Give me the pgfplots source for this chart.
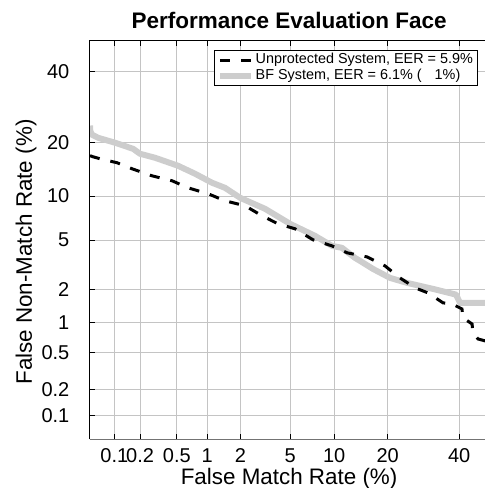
\documentclass[border=0pt]{standalone}
\usepackage{fontspec}
\setmainfont{Liberation Sans}
\usepackage{pgfplots}
\pgfplotsset{compat=1.18}
\definecolor{bfgray}{RGB}{205,205,205}
\definecolor{gridgray}{RGB}{196,196,196}

% DET curves, coordinates are normal deviates (probit of the rate)
\pgfplotstableread{
x y
-3.290 -0.700
-3.288 -0.745
-3.275 -0.775
-3.224 -0.801
-3.084 -0.842
-2.936 -0.892
-2.879 -0.933
-2.755 -0.966
-2.566 -1.032
-2.426 -1.098
-2.287 -1.172
-2.180 -1.214
-2.056 -1.296
-1.851 -1.387
-1.645 -1.511
-1.440 -1.610
-1.300 -1.693
-1.218 -1.709
-1.111 -1.792
-1.069 -1.817
-0.963 -1.883
-0.823 -1.957
-0.683 -1.998
-0.576 -2.023
-0.469 -2.048
-0.305 -2.089
-0.280 -2.095
-0.247 -2.163
-0.040 -2.163
}\bfsys

\pgfplotstableread{
x y
-3.290 -0.949
-3.265 -0.958
-3.208 -0.974
-3.068 -1.007
-2.944 -1.057
-2.780 -1.115
-2.615 -1.156
-2.484 -1.214
-2.319 -1.263
-2.180 -1.321
-2.015 -1.362
-1.875 -1.445
-1.744 -1.511
-1.604 -1.552
-1.456 -1.643
-1.300 -1.693
-1.176 -1.750
-1.012 -1.784
-0.864 -1.858
-0.741 -1.957
-0.617 -2.039
-0.510 -2.081
-0.387 -2.163
-0.313 -2.172
-0.231 -2.213
-0.222 -2.287
-0.148 -2.337
-0.140 -2.411
-0.099 -2.461
-0.040 -2.477
}\unprot

\begin{document}
\begin{tikzpicture}
\begin{axis}[
    name=det,
    scale only axis,
    width=197.5pt, height=199.4pt,
    xmin=-3.2905, xmax=-0.0415,
    ymin=-3.2905, ymax=0,
    xtick={-3.0902,-2.8782,-2.5758,-2.3263,-2.0537,-1.6449,-1.2816,-0.8416,-0.2533},
    xticklabels={0.1,0.2,0.5,1,2,5,10,20,40},
    ytick={-3.0902,-2.8782,-2.5758,-2.3263,-2.0537,-1.6449,-1.2816,-0.8416,-0.2533},
    yticklabels={0.1,0.2,0.5,1,2,5,10,20,40},
    ytick pos=left,
    tick align=inside,
    major tick length=2.5pt,
    tick style={black, line width=0.4pt},
    grid=major,
    major grid style={gridgray, line width=0.5pt},
    axis line style={draw=none},
    tick label style={font=\fontsize{10}{12}\selectfont},
    yticklabel style={xshift=-6.8pt},
    xticklabel style={yshift=-1pt},
    title={\bfseries Performance Evaluation Face},
    title style={at={(axis description cs:0.504,1.0318)}, anchor=base, yshift=-6pt, font=\fontsize{11.25}{13}\selectfont},
    xlabel={False Match Rate (\%)},
    xlabel style={at={(axis description cs:0.504,-0.1066)}, anchor=base, yshift=-1pt, font=\fontsize{11.2}{13}\selectfont},
    ylabel={False Non-Match Rate (\%)},
    ylabel style={at={(axis description cs:-0.147,0.47)}, anchor=base, font=\fontsize{11.2}{13}\selectfont},
    legend style={at={(0.982,0.9767)}, anchor=north east, draw=black, line width=0.5pt,
        fill=white, font=\fontsize{7.2}{8}\selectfont, inner xsep=1.5pt, inner ysep=0.7pt,
        row sep=0pt, nodes={inner sep=0.7pt}, cells={anchor=west}},
    legend image code/.code={\draw[#1] (0pt,0pt) -- (15.5pt,0pt);},
    reverse legend,
]
\addplot[bfgray, line width=3pt, line join=round] table {\bfsys};
\addlegendentry{BF System, EER = 6.1\% (\hspace{6.5pt}1\%)}
\addplot[black, line width=1.5pt, dash pattern=on 5pt off 5.5pt] table {\unprot};
\addlegendentry{Unprotected System, EER = 5.9\%}
\end{axis}
\draw[black, line width=0.5pt] (det.south west) -- (det.north west) -- (det.north east);
\draw[black!55, line width=0.5pt] (det.south west) -- (det.south east);
\pgfresetboundingbox
\path[use as bounding box] ([xshift=-45pt, yshift=-24.25pt]det.south west) rectangle ([yshift=20.35pt]det.north east);
\end{tikzpicture}
\end{document}
